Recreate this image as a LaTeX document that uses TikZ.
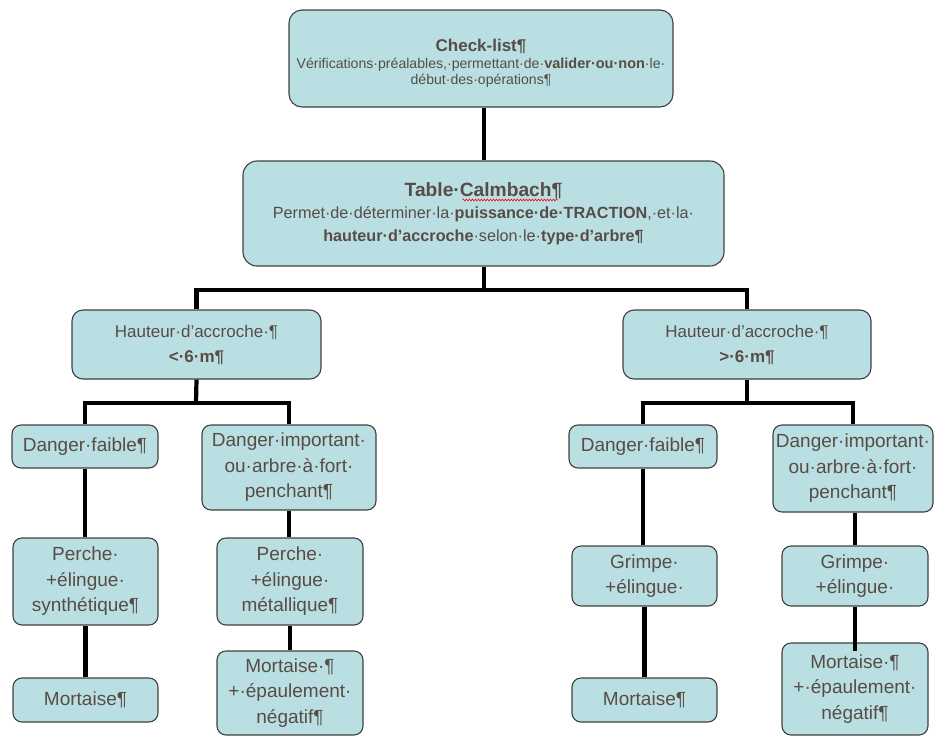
\documentclass[tikz,border=0pt]{standalone}
\usepackage{fontspec}
\setmainfont{Liberation Sans}
\usetikzlibrary{decorations.pathmorphing}
\definecolor{boxfill}{RGB}{185,223,227}
\definecolor{boxline}{RGB}{64,64,64}
\definecolor{txt}{RGB}{88,76,70}
\begin{document}
\begin{tikzpicture}[x=1pt,y=-1pt,
  box/.style={draw=boxline, line width=1.1pt, fill=boxfill, rounded corners=9pt,
    text=txt, align=center, inner sep=0pt},
  small/.style={box, font=\fontsize{19}{25.5}\selectfont},
  wire/.style={line width=4.2pt, black}]
\useasboundingbox (0,0) rectangle (935,737);

\coordinate (lvA) at (484,290);
\coordinate (lvL) at (196,403);
\coordinate (lvR) at (747,403);

% boxes
\node[box, rounded corners=13pt, minimum width=384pt, minimum height=97pt,
  font=\fontsize{14.1}{16.8}\selectfont] (chk) at (481,58.5)
  {\rule{0pt}{22pt}{\fontsize{17}{16.8}\selectfont\bfseries Check-list¶}\\
   Vérifications·préalables,·permettant·de·{\fontsize{14.5}{16.8}\selectfont\bfseries valider·ou·non}·le·\\
   début·des·opérations¶};

\node[box, rounded corners=14pt, minimum width=481pt, minimum height=105pt,
  font=\fontsize{16.2}{22.5}\selectfont] (tab) at (483.5,213.5)
  {{\fontsize{19.2}{22.5}\selectfont\bfseries Table·Calmbach¶}\\
   Permet·de·déterminer·la·\textbf{puissance·de·TRACTION},·et·la·\\
   \textbf{hauteur·d'accroche}·selon·le·\textbf{type·d'arbre¶}};

\node[box, rounded corners=11pt, minimum width=249pt, minimum height=69pt,
  font=\fontsize{17}{25}\selectfont] (hl) at (196.5,344.5)
  {Hauteur·d'accroche·¶\\ \textbf{<·6·m¶}};
\node[box, rounded corners=11pt, minimum width=248pt, minimum height=69pt,
  font=\fontsize{17}{25}\selectfont] (hr) at (747,344.5)
  {Hauteur·d'accroche·¶\\ \textbf{>·6·m¶}};

% left branch
\node[small, minimum width=146pt, minimum height=43pt] (dfl) at (85,446.5) {Danger·faible¶};
\node[small, minimum width=174pt, minimum height=85pt] (dil) at (289,467.5)
  {Danger·important·\\ ou·arbre·à·fort·\\ penchant¶};
\node[small, minimum width=145pt, minimum height=87pt] (psl) at (85.5,581.5)
  {Perche·\\ +élingue·\\ synthétique¶};
\node[small, minimum width=146pt, minimum height=87pt] (pml) at (290,581.5)
  {Perche·\\ +élingue·\\ métallique¶};
\node[small, minimum width=145pt, minimum height=44pt] (mol) at (85.5,700) {Mortaise¶};
\node[small, minimum width=146pt, minimum height=84pt] (mel) at (290,693)
  {Mortaise·¶\\ +·épaulement·\\ négatif¶};

% right branch
\node[small, minimum width=148pt, minimum height=43pt] (dfr) at (643,446.5) {Danger·faible¶};
\node[small, minimum width=160pt, minimum height=87pt] (dir) at (853,468.5)
  {Danger·important·\\ ou·arbre·à·fort·\\ penchant¶};
\node[small, minimum width=145pt, minimum height=60pt] (grl) at (644.5,576)
  {Grimpe·\\ +élingue·};
\node[small, minimum width=146pt, minimum height=60pt] (grr) at (855,576)
  {Grimpe·\\ +élingue·};
\node[small, minimum width=145pt, minimum height=44pt] (mor) at (644.5,700) {Mortaise¶};
\node[small, minimum width=146pt, minimum height=92pt] (mer) at (855,689)
  {Mortaise·¶\\ +·épaulement·\\ négatif¶};

% connectors
\draw[wire] (chk.south -| lvA) -- (tab.north -| lvA);
\draw[wire] (tab.south -| lvA) -- (lvA);
\draw[wire, line join=miter] (hl.north) |- (lvA) -| (hr.north);
\draw[wire, line join=miter] (dfl.north) |- (lvL) -| (dil.north);
\draw[wire] (hl.south) -- (lvL);
\draw[wire, line join=miter] (dfr.north) |- (lvR) -| (dir.north);
\draw[wire] (hr.south) -- (lvR);
\draw[wire] (dfl.south) -- (dfl.south |- psl.north);
\draw[wire] (psl.south) -- (psl.south |- mol.north);
\draw[wire] (dil.south) -- (dil.south |- pml.north);
\draw[wire] (pml.south) -- (pml.south |- mel.north);
\draw[wire] (dfr.south) -- (dfr.south |- grl.north);
\draw[wire] (grl.south) -- (grl.south |- mor.north);
\draw[wire] (dir.south -| grr) -- (grr.north);
\draw[wire] (grr.south) -- ([yshift=-9pt]grr.south |- mer.north);

% spelling mark under "Calmbach"
\draw[red, line width=0.6pt, decorate, decoration={snake, amplitude=0.9pt, segment length=3pt}]
  ([xshift=-21pt,yshift=13.5pt]tab.center) -- ([xshift=74pt,yshift=13.5pt]tab.center);
\end{tikzpicture}
\end{document}
